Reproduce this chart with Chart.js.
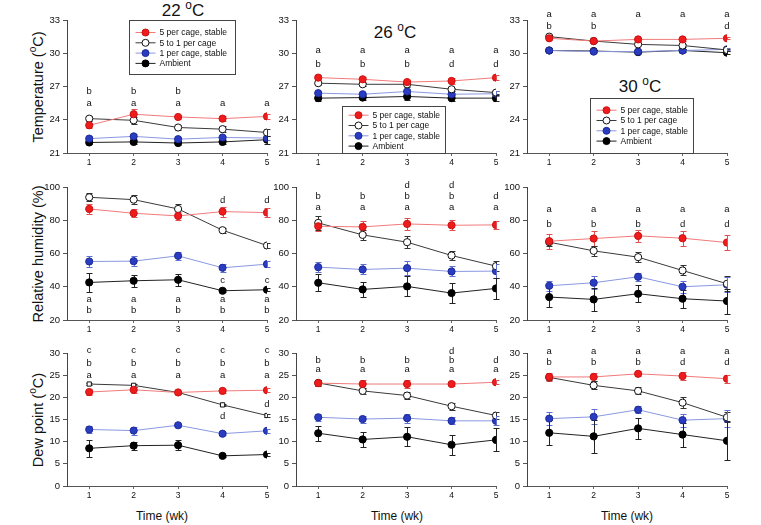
<!DOCTYPE html>
<html>
<head>
<meta charset="utf-8">
<script src="https://cdn.jsdelivr.net/npm/chart.js@4.4.1/dist/chart.umd.min.js"></script>
<style>
  html, body { margin: 0; padding: 0; background: #fff; }
  body { width: 761px; height: 525px; position: relative; overflow: hidden;
         font-family: "Liberation Sans", Arial, sans-serif; color: #111; }
  canvas { position: absolute; }
  .ttl { position: absolute; font-size: 17px; white-space: nowrap; transform: translate(-50%, -50%); }
  .ylab { position: absolute; font-size: 14.5px; white-space: nowrap; transform: translate(-50%, -50%) rotate(-90deg); }
  .xlab { position: absolute; font-size: 12px; white-space: nowrap; transform: translate(-50%, -50%); }
  sup { font-size: 0.7em; vertical-align: top; position: relative; top: -0.25em; }
</style>
</head>
<body>
<div class="ttl" style="left:183px;top:11px">22 <sup>o</sup>C</div>
<div class="ttl" style="left:395px;top:33px">26 <sup>o</sup>C</div>
<div class="ttl" style="left:640px;top:87px">30 <sup>o</sup>C</div>
<div class="ylab" style="left:38px;top:87px">Temperature (<sup>o</sup>C)</div>
<div class="ylab" style="left:38px;top:254px">Relative humidity (%)</div>
<div class="ylab" style="left:38px;top:420px">Dew point (<sup>o</sup>C)</div>
<div class="xlab" style="left:162px;top:516px">Time (wk)</div>
<div class="xlab" style="left:397px;top:516px">Time (wk)</div>
<div class="xlab" style="left:627px;top:516px">Time (wk)</div>

<script>
"use strict";

const weeks = [1, 2, 3, 4, 5];
const groups = ["5 per cage, stable", "5 to 1 per cage", "1 per cage, stable", "Ambient"];

// means and SE, one row per group (order as in `groups`)
const temp22 = [[23.5, 24.5, 24.25, 24.1, 24.3], [24.1, 23.95, 23.3, 23.15, 22.85], [22.3, 22.5, 22.25, 22.4, 22.35], [21.95, 22.0, 21.9, 22.0, 22.2]];
const temp22Err = [[0.2, 0.45, 0.2, 0.2, 0.25], [0.2, 0.3, 0.2, 0.3, 0.3], [0.2, 0.2, 0.15, 0.15, 0.2], [0.15, 0.15, 0.15, 0.15, 0.35]];
const temp26 = [[27.8, 27.65, 27.4, 27.5, 27.8], [27.3, 27.2, 27.2, 26.75, 26.45], [26.4, 26.3, 26.55, 26.3, 26.35], [25.95, 26.0, 26.1, 25.95, 25.95]];
const temp26Err = [[0.2, 0.2, 0.15, 0.25, 0.25], [0.2, 0.15, 0.2, 0.15, 0.15], [0.2, 0.15, 0.25, 0.15, 0.2], [0.25, 0.2, 0.3, 0.25, 0.25]];
const temp30 = [[31.35, 31.1, 31.25, 31.25, 31.35], [31.5, 31.1, 30.8, 30.7, 30.3], [30.25, 30.15, 30.15, 30.25, 30.35], [30.25, 30.2, 30.1, 30.25, 30.05]];
const temp30Err = [[0.12, 0.1, 0.1, 0.1, 0.1], [0.1, 0.1, 0.1, 0.1, 0.1], [0.1, 0.1, 0.1, 0.1, 0.1], [0.12, 0.12, 0.12, 0.12, 0.12]];

const rh22 = [[86.8, 84.2, 82.6, 85.2, 84.6], [93.8, 92.4, 86.8, 74.0, 64.8], [55.2, 55.4, 58.6, 51.4, 53.6], [42.6, 43.6, 44.2, 37.6, 38.2]];
const rh22Err = [[3, 2.5, 2.2, 3, 2.5], [2.5, 2.5, 3, 1.5, 1.5], [3.5, 3, 2.5, 2.5, 2], [5.5, 3.5, 3.5, 1, 1]];
const rh26 = [[76.4, 76.0, 77.8, 77.0, 77.2], [78.4, 71.2, 66.8, 58.8, 52.4], [51.8, 50.4, 51.2, 49.2, 49.4], [42.4, 38.4, 40.2, 36.2, 39.0]];
const rh26Err = [[3, 3.5, 3.5, 3, 2.5], [4, 3, 3.5, 3, 3], [3, 3, 4, 3, 4], [5, 4.5, 6, 6, 6.5]];
const rh30 = [[67.4, 69.0, 70.6, 69.2, 66.6], [66.8, 61.6, 57.8, 49.8, 41.8], [40.6, 42.4, 46.0, 40.0, 41.2], [33.8, 32.4, 35.8, 32.8, 31.4]];
const rh30Err = [[4.5, 4.5, 3.5, 4.5, 4.5], [2, 3, 3, 3, 4.5], [3, 4, 2.5, 3.5, 4.5], [6, 7, 5, 5.5, 7.5]];

const dew22 = [[21.2, 21.7, 21.1, 21.45, 21.6], [23.0, 22.7, 21.1, 18.3, 15.9], [12.75, 12.5, 13.7, 11.8, 12.45], [8.5, 9.1, 9.2, 6.8, 7.1]];
const dew22Err = [[0.7, 0.7, 0.4, 0.5, 0.4], [0.3, 0.3, 0.3, 0.3, 0.3], [0.8, 0.9, 0.5, 0.4, 0.4], [1.9, 0.9, 1.1, 0.3, 0.3]];
const dew26 = [[23.2, 23.0, 23.0, 23.0, 23.4], [23.25, 21.45, 20.4, 18.0, 15.9], [15.5, 15.1, 15.3, 14.7, 14.7], [11.9, 10.5, 11.1, 9.3, 10.4]];
const dew26Err = [[0.7, 0.8, 0.8, 0.5, 0.5], [0.7, 0.7, 0.7, 0.8, 0.8], [0.8, 0.8, 1.0, 0.8, 1.0], [1.7, 1.6, 2.1, 2.3, 2.6]];
const dew30 = [[24.6, 24.6, 25.3, 24.8, 24.2], [24.5, 22.7, 21.45, 18.8, 15.5], [15.2, 15.6, 17.2, 14.85, 15.2], [12.0, 11.2, 13.0, 11.6, 10.2]];
const dew30Err = [[1.0, 0.9, 0.6, 0.9, 0.9], [0.6, 0.9, 0.8, 1.2, 1.1], [1.5, 1.7, 0.8, 1.5, 2.0], [2.8, 3.8, 2.4, 2.7, 4.4]];

// significance letters, one row of 5 per line of text
const temp22Letters = [["b", "b", "b", "", ""], ["a", "a", "a", "a", "a"]];
const temp26Letters = [["a", "a", "a", "a", "a"], ["b", "b", "b", "d", "d"]];
const temp30Letters = [["a", "a", "a", "a", "a"], ["b", "b", "", "", "d"]];
const rh22Letters = [["", "", "", "d", "d"], ["", "", "", "c", "c"], ["a", "a", "a", "a", "a"], ["b", "b", "b", "b", "b"]];
const rh26Letters = [["", "", "d", "d", ""], ["b", "b", "b", "b", "d"], ["a", "a", "a", "a", "a"]];
const rh30Letters = [["a", "a", "a", "a", "a"], ["b", "b", "b", "d", "d"]];
const dew22Letters = [["c", "c", "c", "c", "c"], ["b", "b", "b", "b", "b"], ["a", "a", "a", "a", "a"], ["", "", "", "", "d"], ["", "", "", "d", ""]];
const dew26Letters = [["", "", "", "d", ""], ["b", "b", "b", "b", "d"], ["a", "a", "a", "a", "a"]];
const dew30Letters = [["a", "a", "a", "a", "a"], ["b", "b", "b", "d", "d"]];

// ── styles ───────────────────────────────────────────
const styles = [
  { line: "#f07a7a", fill: "#ee1c1c", edge: "#cc1010", bar: "#e05050" },
  { line: "#3a3a3a", fill: "#ffffff", edge: "#111111", bar: "#333333" },
  { line: "#8a98e0", fill: "#2a3cc0", edge: "#1c2a9a", bar: "#6070d0" },
  { line: "#222222", fill: "#000000", edge: "#000000", bar: "#222222" },
];
const PLOT_W = 200, PLOT_H = 133, AX_W = 45, AX_H = 18, PAD_T = 22, PAD_R = 14;
const FONT = '"Liberation Sans", Arial, sans-serif';
Chart.defaults.font.family = FONT;

const panels = [
  { id: "t22", left: 67, top: 20, min: 21, max: 33, step: 3, means: temp22, errs: temp22Err, letters: temp22Letters, levels: [26.6, 25.45],
    legend: { x: 62, y: 0, w: 106, h: 54, first: 12 } },
  { id: "t26", left: 296, top: 20, min: 21, max: 33, step: 3, means: temp26, errs: temp26Err, letters: temp26Letters, levels: [30.25, 29.0],
    legend: { x: 46, y: 86, w: 103, h: 47, first: 8.7 } },
  { id: "t30", left: 527, top: 20, min: 21, max: 33, step: 3, means: temp30, errs: temp30Err, letters: temp30Letters, levels: [33.55, 32.4],
    legend: { x: 63, y: 78, w: 103, h: 55, first: 11.7 } },
  { id: "r22", left: 67, top: 187, min: 20, max: 100, step: 20, means: rh22, errs: rh22Err, letters: rh22Letters, levels: [92, 44, 32.5, 26] },
  { id: "r26", left: 296, top: 187, min: 20, max: 100, step: 20, means: rh26, errs: rh26Err, letters: rh26Letters, levels: [101, 94.4, 88] },
  { id: "r30", left: 527, top: 187, min: 20, max: 100, step: 20, means: rh30, errs: rh30Err, letters: rh30Letters, levels: [86.4, 77.4] },
  { id: "d22", left: 67, top: 353, min: 0, max: 30, step: 5, means: dew22, errs: dew22Err, letters: dew22Letters, levels: [30.5, 27.7, 25, 18.4, 15.75], openRect: true },
  { id: "d26", left: 296, top: 353, min: 0, max: 30, step: 5, means: dew26, errs: dew26Err, letters: dew26Letters, levels: [30.4, 28.3, 26.25] },
  { id: "d30", left: 527, top: 353, min: 0, max: 30, step: 5, means: dew30, errs: dew30Err, letters: dew30Letters, levels: [30.4, 27.9] },
];

// ── error bars (drawn under the markers) ─────────────
const errorBars = {
  id: "errorBars",
  beforeDatasetsDraw(chart) {
    const ctx = chart.ctx, ys = chart.scales.y;
    chart.data.datasets.forEach((ds, i) => {
      const meta = chart.getDatasetMeta(i);
      ctx.save();
      ctx.strokeStyle = ds.barColor;
      ctx.lineWidth = 1;
      meta.data.forEach((pt, j) => {
        const v = ds.data[j].y, e = ds.errors[j];
        const y1 = Math.round(ys.getPixelForValue(v + e)) + 0.5;
        const y2 = Math.round(ys.getPixelForValue(v - e)) + 0.5;
        const x = Math.round(pt.x) + 0.5;
        ctx.beginPath();
        ctx.moveTo(x, y1); ctx.lineTo(x, y2);
        ctx.moveTo(x - 3, y1); ctx.lineTo(x + 3, y1);
        ctx.moveTo(x - 3, y2); ctx.lineTo(x + 3, y2);
        ctx.stroke();
      });
      ctx.restore();
    });
  },
};

// ── letters + boxed legend for one panel ─────────────
function annotations(p) {
  return {
    id: "annot_" + p.id,
    afterDraw(chart) {
      const ctx = chart.ctx, xs = chart.scales.x, ys = chart.scales.y, area = chart.chartArea;
      ctx.save();
      ctx.fillStyle = "#111";
      ctx.font = "9.5px " + FONT;
      ctx.textAlign = "center";
      ctx.textBaseline = "middle";
      p.letters.forEach((row, r) => {
        const y = ys.getPixelForValue(p.levels[r]);
        row.forEach((t, i) => { if (t) ctx.fillText(t, xs.getPixelForValue(weeks[i]), y); });
      });
      if (p.legend) {
        const L = p.legend;
        const bx = Math.round(area.left + L.x) + 0.5, by = Math.round(area.top + L.y) + 0.5;
        ctx.fillStyle = "#fff";
        ctx.fillRect(bx, by, L.w, L.h);
        ctx.strokeStyle = "#444";
        ctx.lineWidth = 1;
        ctx.strokeRect(bx, by, L.w, L.h);
        ctx.font = "8.5px " + FONT;
        ctx.textAlign = "left";
        groups.forEach((g, i) => {
          const s = styles[i];
          const y = by + L.first + i * 10.3;
          ctx.strokeStyle = s.line;
          ctx.beginPath(); ctx.moveTo(bx + 6, y); ctx.lineTo(bx + 26, y); ctx.stroke();
          ctx.fillStyle = s.fill; ctx.strokeStyle = s.edge;
          ctx.beginPath(); ctx.arc(bx + 16, y, 3.5, 0, Math.PI * 2); ctx.fill(); ctx.stroke();
          ctx.fillStyle = "#111";
          ctx.fillText(g, bx + 30, y + 0.5);
        });
      }
      ctx.restore();
    },
  };
}

// ── build the nine panels ────────────────────────────
panels.forEach((p) => {
  const cv = document.createElement("canvas");
  cv.width = AX_W + PLOT_W + PAD_R;
  cv.height = PAD_T + PLOT_H + AX_H;
  cv.style.left = p.left - AX_W + "px";
  cv.style.top = p.top - PAD_T + "px";
  document.body.appendChild(cv);

  const datasets = groups.map((g, i) => ({
    label: g,
    data: weeks.map((w, j) => ({ x: w, y: p.means[i][j] })),
    errors: p.errs[i],
    barColor: styles[i].bar,
    borderColor: styles[i].line,
    borderWidth: 1,
    pointBackgroundColor: styles[i].fill,
    pointBorderColor: styles[i].edge,
    pointBorderWidth: 1,
    pointRadius: i === 1 && p.openRect ? 3 : 3.6,
    pointStyle: i === 1 && p.openRect ? "rect" : "circle",
    tension: 0,
    order: i + 1,
  }));

  new Chart(cv, {
    type: "line",
    data: { datasets },
    plugins: [errorBars, annotations(p)],
    options: {
      responsive: false,
      animation: false,
      layout: { padding: { top: PAD_T, right: PAD_R, left: 0, bottom: 0 } },
      plugins: { legend: { display: false }, tooltip: { enabled: false } },
      scales: {
        x: {
          type: "linear", min: 0.5, max: 5,
          afterBuildTicks: (s) => { s.ticks = weeks.map((v) => ({ value: v })); },
          afterFit: (s) => { s.height = AX_H; },
          grid: { drawOnChartArea: false, tickLength: 3, color: "#666" },
          border: { color: "#555" },
          ticks: { font: { size: 8.5 }, color: "#111", padding: 2, maxRotation: 0 },
        },
        y: {
          min: p.min, max: p.max,
          afterFit: (s) => { s.width = AX_W; },
          grid: { drawOnChartArea: false, tickLength: 4, color: "#555" },
          border: { color: "#444" },
          ticks: { stepSize: p.step, font: { size: 9.5 }, color: "#111", padding: 3 },
        },
      },
    },
  });
});
</script>
</body>
</html>
